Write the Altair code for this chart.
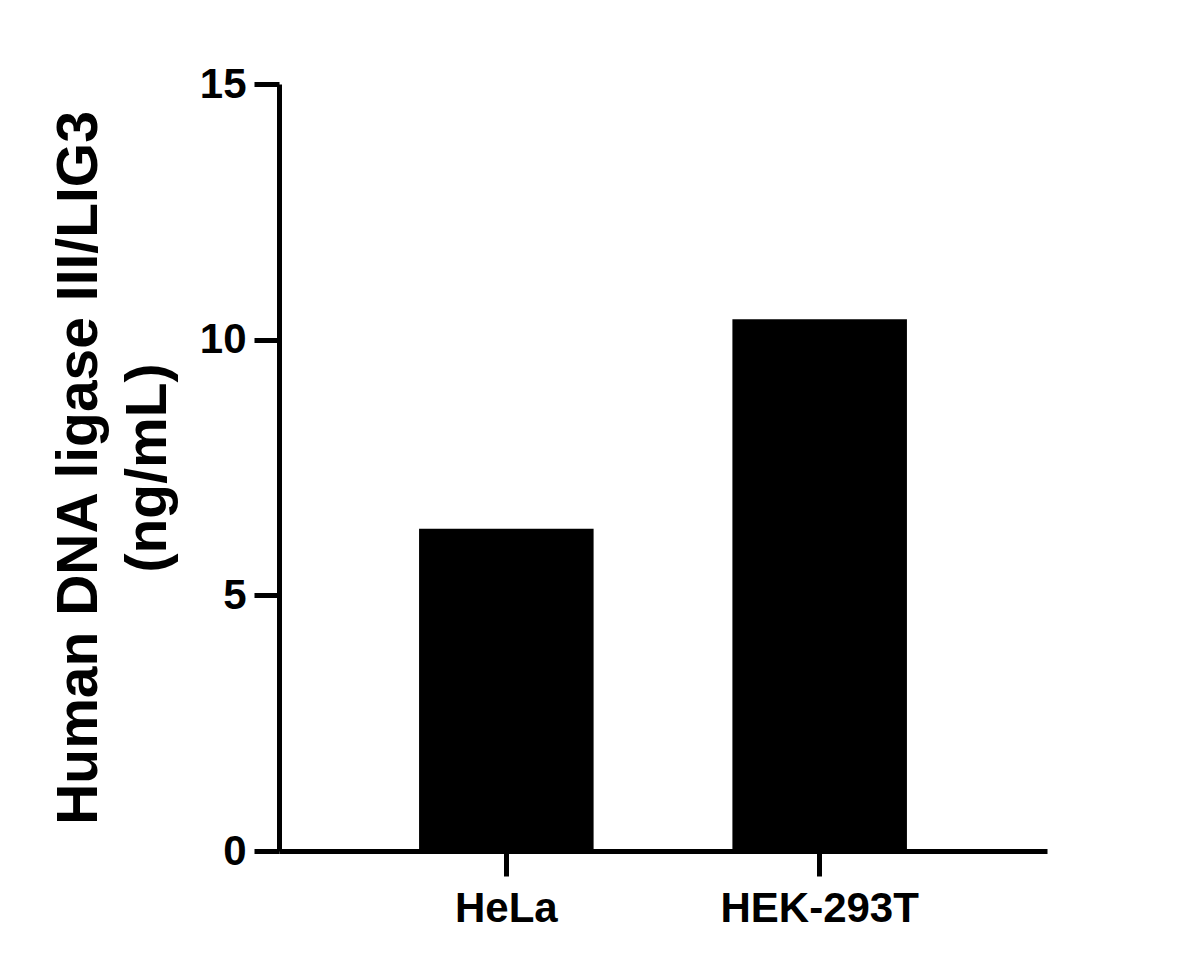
import altair as alt
import pandas as pd

categories = ["HeLa", "HEK-293T"]
values = [6.3, 10.4]
y_ticks = [0, 5, 10, 15]

df = pd.DataFrame({"cell": categories, "value": values})

FONT = "Liberation Sans"

chart = alt.Chart(df).mark_bar(color="black").encode(
    x=alt.X(
        "cell:N",
        sort=categories,
        scale=alt.Scale(paddingInner=0.443, paddingOuter=0.447),
        axis=alt.Axis(
            title=None,
            labelAngle=0,
            labelFont=FONT,
            labelFontSize=42,
            labelFontWeight="bold",
            labelColor="black",
            labelPadding=12,
            labelLimit=0,
            domainColor="black",
            domainWidth=5,
            tickColor="black",
            tickWidth=5,
            tickSize=25,
            grid=False,
        ),
    ),
    y=alt.Y(
        "value:Q",
        scale=alt.Scale(domain=[0, 15], nice=False),
        axis=alt.Axis(
            title=["Human DNA ligase III/LIG3", "(ng/mL)"],
            titleFont=FONT,
            titleFontSize=57,
            titleFontWeight="bold",
            titleColor="black",
            titleAngle=270,
            titleAlign="center",
            titleBaseline="alphabetic",
            titleLineHeight=69,
            titleX=-183,
            titleY=383.5,
            titleLimit=0,
            values=y_ticks,
            labelFont=FONT,
            labelFontSize=42,
            labelFontWeight="bold",
            labelColor="black",
            labelPadding=8,
            labelLimit=0,
            domainColor="black",
            domainWidth=5,
            tickColor="black",
            tickWidth=5,
            tickSize=25,
            grid=False,
        ),
    ),
).properties(
    width=768,
    height=767,
    autosize=alt.AutoSizeParams(type="none"),
    padding={"left": 271, "top": 76, "right": 100, "bottom": 100},
).configure(
    background="white",
    view=alt.ViewConfig(stroke="transparent", strokeWidth=0),
)

chart.save("out.html", embed_options={"renderer": "svg", "actions": False})
